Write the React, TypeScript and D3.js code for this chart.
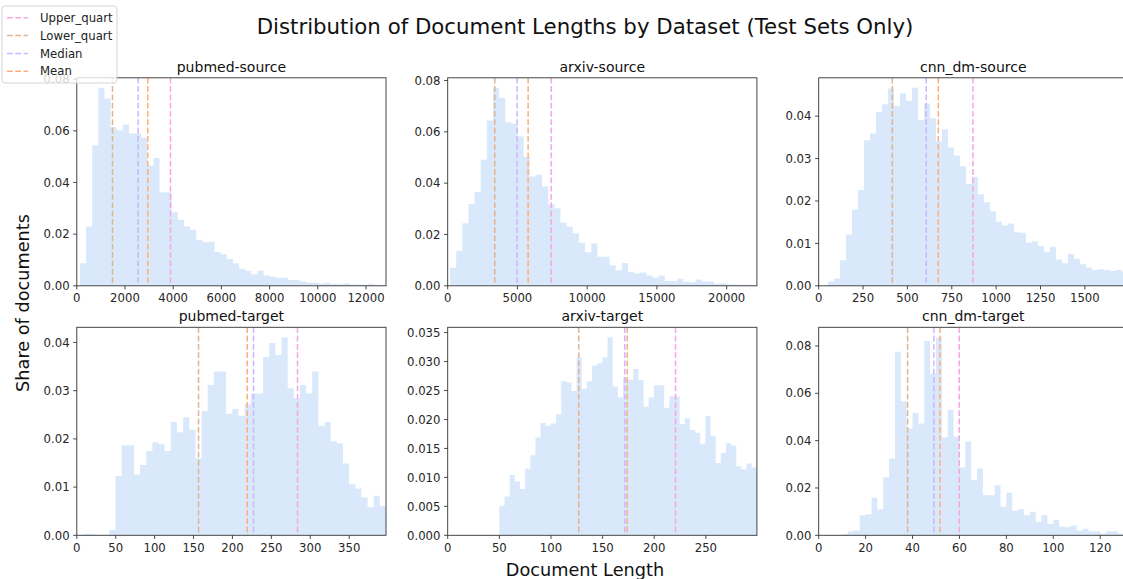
import React from 'react';
import * as d3 from 'd3';

const W = 1123;
const H = 579;
const FONT = '"DejaVu Sans", "Liberation Sans", sans-serif';
const TICK_FS = 11.7;

// Panel titles in grid order (row-major)
const panelTitles = ['pubmed-source', 'arxiv-source', 'cnn_dm-source', 'pubmed-target', 'arxiv-target', 'cnn_dm-target'];

// Histogram bin layout per panel: first edge, bin width, and x-axis upper limit
const binStart = [130, 167, 52.5, 2.3, 50, 0];
const binWidth = [254, 440, 33.8, 7.9, 4.988, 2.5];
const xUpper = [12830, 22167, 1742.5, 397.3, 299.4, 131.8];

// Share of documents per bin
const pubmedSource = [
  0.0087, 0.023, 0.0544, 0.0767, 0.0725, 0.0614, 0.0602, 0.0625, 0.059, 0.059,
  0.0573, 0.0466, 0.0495, 0.0362, 0.0362, 0.0286, 0.0256, 0.023, 0.0217, 0.0178,
  0.0169, 0.0171, 0.0131, 0.0122, 0.0104, 0.0087, 0.0066, 0.0058, 0.0045, 0.0058,
  0.004, 0.0036, 0.0031, 0.0031, 0.0022, 0.0022, 0.0018, 0.0013, 0.0012, 0.0008,
  0.0012, 0.0007, 0.0006, 0.0009, 0.0005, 0.0006, 0.0004, 0.0007, 0.0004, 0.0003,
];
const arxivSource = [
  0.007, 0.0137, 0.0244, 0.0319, 0.0366, 0.0491, 0.0644, 0.0772, 0.0732, 0.0637,
  0.0632, 0.0582, 0.0502, 0.0426, 0.0433, 0.0387, 0.0318, 0.0302, 0.0246, 0.0231,
  0.0205, 0.0168, 0.0131, 0.0165, 0.0113, 0.0113, 0.008, 0.0061, 0.0089, 0.0055,
  0.0048, 0.0052, 0.004, 0.0031, 0.004, 0.0019, 0.0019, 0.0027, 0.0016, 0.0014,
  0.0025, 0.0017, 0.0017, 0.0008, 0.001, 0.0006, 0.0005, 0.0004, 0.0005, 0.0003,
];
const cnnDmSource = [
  0.001, 0.0017, 0.006, 0.0121, 0.018, 0.0226, 0.0343, 0.0359, 0.041, 0.0428,
  0.0465, 0.0424, 0.0454, 0.0436, 0.0467, 0.0391, 0.043, 0.0395, 0.034, 0.0369,
  0.0326, 0.0307, 0.0282, 0.024, 0.0257, 0.0216, 0.0197, 0.0176, 0.0151, 0.0142,
  0.0147, 0.0126, 0.0125, 0.0102, 0.0105, 0.0094, 0.008, 0.0092, 0.0062, 0.0053,
  0.0075, 0.0064, 0.0051, 0.0043, 0.0037, 0.0039, 0.0037, 0.0035, 0.0037, 0.0033,
];
const pubmedTarget = [
  0.0001, 0.0003, 0.0002, 0.0001, 0.0001, 0.0011,
  0.0123, 0.0187, 0.0187, 0.0126, 0.0146, 0.0175, 0.0193, 0.0189, 0.0175, 0.0235,
  0.0214, 0.0245, 0.0219, 0.016, 0.0258, 0.0312, 0.034, 0.034, 0.0252, 0.0262,
  0.0248, 0.0272, 0.0294, 0.0294, 0.037, 0.0399, 0.0374, 0.0411, 0.0305, 0.0285,
  0.0312, 0.0294, 0.034, 0.0227, 0.0235, 0.0195, 0.0191, 0.0149, 0.0106, 0.0097,
  0.0079, 0.0058, 0.0082, 0.0061,
];
const arxivTarget = [
  0.0051, 0.0067, 0.0104, 0.0093, 0.008, 0.0115, 0.0138, 0.0169, 0.0194, 0.0189,
  0.0193, 0.0209, 0.0266, 0.0264, 0.0249, 0.0307, 0.0253, 0.0266, 0.0293, 0.0297,
  0.0307, 0.0342, 0.0257, 0.0238, 0.0273, 0.0269, 0.0287, 0.0268, 0.0222, 0.0238,
  0.0259, 0.0259, 0.022, 0.024, 0.024, 0.0192, 0.0202, 0.0182, 0.0177, 0.0158,
  0.0206, 0.0172, 0.0125, 0.0142, 0.0159, 0.0155, 0.0119, 0.0114, 0.0124, 0.0117,
];
const cnnDmTarget = [
  0, 0, 0.0001, 0.0002, 0.0005, 0.0017, 0.002, 0.0085, 0.0089, 0.0159,
  0.011, 0.0245, 0.0324, 0.0776, 0.0566, 0.0451, 0.0518, 0.0472, 0.0821, 0.0683,
  0.0837, 0.0414, 0.053, 0.0417, 0.0286, 0.0396, 0.0234, 0.0282, 0.017, 0.0169,
  0.0211, 0.0121, 0.018, 0.0104, 0.011, 0.0085, 0.0099, 0.0056, 0.0085, 0.0048,
  0.0065, 0.0037, 0.0034, 0.0041, 0.002, 0.0028, 0.0017, 0.0017, 0.0008, 0.0017,
  0.0017, 0.0008, 0.0008,
];

// Summary statistics marked on each panel
const upperQuart = [3887, 7416, 869, 283.6, 220.6, 59.9];
const lowerQuart = [1480, 3373, 415, 156.4, 126.9, 37.9];
const medianLen = [2545, 4976, 606, 227, 171.5, 49.1];
const meanLen = [2946, 5766, 674, 219, 173.8, 51.7];

// Axis ticks
const xTicksPubmedSource = [0, 2000, 4000, 6000, 8000, 10000, 12000];
const xTicksArxivSource = [0, 5000, 10000, 15000, 20000];
const xTicksCnnSource = [0, 250, 500, 750, 1000, 1250, 1500];
const xTicksPubmedTarget = [0, 50, 100, 150, 200, 250, 300, 350];
const xTicksArxivTarget = [0, 50, 100, 150, 200, 250];
const xTicksCnnTarget = [0, 20, 40, 60, 80, 100, 120];
const yTicksEighths = [0, 0.02, 0.04, 0.06, 0.08];
const yTicksHundredths = [0, 0.01, 0.02, 0.03, 0.04];
const yTicksFine = [0, 0.005, 0.01, 0.015, 0.02, 0.025, 0.03, 0.035];

const shares = [pubmedSource, arxivSource, cnnDmSource, pubmedTarget, arxivTarget, cnnDmTarget];
const xTicks = [xTicksPubmedSource, xTicksArxivSource, xTicksCnnSource, xTicksPubmedTarget, xTicksArxivTarget, xTicksCnnTarget];
const yTicks = [yTicksEighths, yTicksEighths, yTicksHundredths, yTicksHundredths, yTicksFine, yTicksEighths];
const yDecimals = [2, 2, 2, 2, 3, 2];

const statLines = [
  { label: 'Upper_quart', values: upperQuart, color: '#f7a6de' },
  { label: 'Lower_quart', values: lowerQuart, color: '#e0b48e' },
  { label: 'Median', values: medianLen, color: '#cdb5ff' },
  { label: 'Mean', values: meanLen, color: '#ffae78' },
];

const BAR_COLOR = '#a1c9f4';
const DASH = '5.8,2.5';
const colLeft = [76.8, 447.7, 818.7];
const rowTop = [77.8, 327.3];
const PW = 309.2;
const PH = 208;

function Panel({ i }: { i: number }) {
  const left = colLeft[i % 3];
  const top = rowTop[Math.floor(i / 3)];
  const data = shares[i];
  const yMax = (d3.max(data) as number) * 1.05;
  const x = d3.scaleLinear().domain([0, xUpper[i]]).range([left, left + PW]);
  const y = d3.scaleLinear().domain([0, yMax]).range([top + PH, top]);

  const pts: [number, number][] = data.map((v, k) => [binStart[i] + k * binWidth[i], v]);
  pts.push([binStart[i] + data.length * binWidth[i], data[data.length - 1]]);
  const area = d3
    .area<[number, number]>()
    .x((d) => x(d[0]))
    .y0(y(0))
    .y1((d) => y(d[1]))
    .curve(d3.curveStepAfter);

  const clipId = `clip-${i}`;
  const bottom = top + PH;
  const fmt = d3.format(`.${yDecimals[i]}f`);

  return (
    <g>
      <defs>
        <clipPath id={clipId}>
          <rect x={left} y={top} width={PW} height={PH} />
        </clipPath>
      </defs>
      <g clipPath={`url(#${clipId})`}>
        <path d={area(pts) || ''} fill={BAR_COLOR} fillOpacity={0.4} />
        {statLines.map((s) => (
          <line
            key={s.label}
            x1={x(s.values[i])}
            x2={x(s.values[i])}
            y1={top}
            y2={bottom}
            stroke={s.color}
            strokeWidth={1.5}
            strokeDasharray={DASH}
          />
        ))}
      </g>
      <rect x={left} y={top} width={PW} height={PH} fill="none" stroke="#333" strokeWidth={0.9} />
      {xTicks[i].map((t) => (
        <g key={`x${t}`}>
          <line x1={x(t)} x2={x(t)} y1={bottom} y2={bottom + 3.6} stroke="#333" strokeWidth={0.9} />
          <text x={x(t)} y={bottom + 16.5} textAnchor="middle" fontSize={TICK_FS} fill="#262626" fontFamily={FONT}>
            {t}
          </text>
        </g>
      ))}
      {yTicks[i].map((t) => (
        <g key={`y${t}`}>
          <line x1={left - 3.6} x2={left} y1={y(t)} y2={y(t)} stroke="#333" strokeWidth={0.9} />
          <text x={left - 7.2} y={y(t) + 4.2} textAnchor="end" fontSize={TICK_FS} fill="#262626" fontFamily={FONT}>
            {fmt(t)}
          </text>
        </g>
      ))}
      <text x={left + PW / 2} y={top - 6.3} textAnchor="middle" fontSize={14} fill="#111" fontFamily={FONT}>
        {panelTitles[i]}
      </text>
    </g>
  );
}

function Legend() {
  const rowY = [17.7, 35.6, 53.4, 71.2];
  return (
    <g>
      <rect x={2} y={6} width={115} height={77} rx={3} fill="#fff" fillOpacity={0.8} stroke="#d0d0d0" strokeWidth={0.9} />
      {statLines.map((s, k) => (
        <g key={s.label}>
          <line x1={7} x2={28} y1={rowY[k]} y2={rowY[k]} stroke={s.color} strokeWidth={1.5} strokeDasharray={DASH} />
          <text x={40} y={rowY[k] + 4.2} fontSize={TICK_FS} fill="#222" fontFamily={FONT}>
            {s.label}
          </text>
        </g>
      ))}
    </g>
  );
}

export default function App() {
  return (
    <svg
      width={W}
      height={H}
      viewBox={`0 0 ${W} ${H}`}
      style={{ position: 'absolute', left: 0, top: 0, background: '#fff' }}
    >
      <rect x={0} y={0} width={W} height={H} fill="#fff" />
      {panelTitles.map((_, i) => (
        <Panel key={i} i={i} />
      ))}
      <text x={585} y={33.5} textAnchor="middle" fontSize={21.3} fill="#111" fontFamily={FONT}>
        Distribution of Document Lengths by Dataset (Test Sets Only)
      </text>
      <text
        transform="translate(29,303) rotate(-90)"
        textAnchor="middle"
        fontSize={17.7}
        fill="#111"
        fontFamily={FONT}
      >
        Share of documents
      </text>
      <text x={585} y={575.5} textAnchor="middle" fontSize={17.7} fill="#111" fontFamily={FONT}>
        Document Length
      </text>
      <Legend />
    </svg>
  );
}
